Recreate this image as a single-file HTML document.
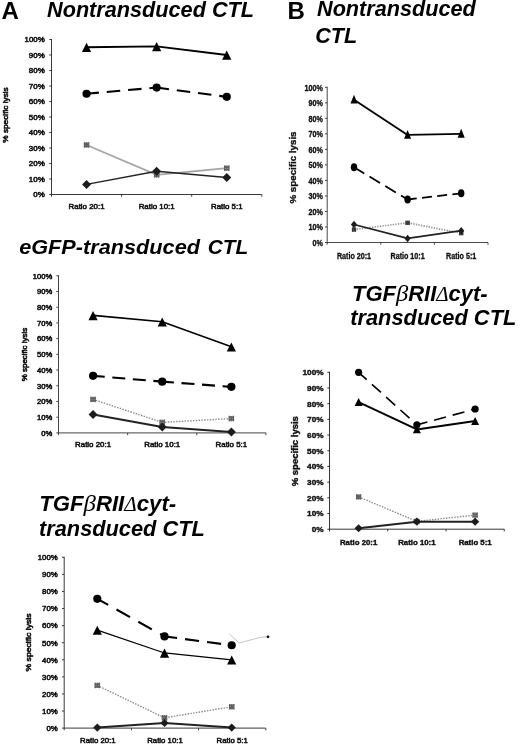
<!DOCTYPE html>
<html><head><meta charset="utf-8"><title>Figure</title>
<style>
html,body{margin:0;padding:0;background:#fff;}
body{width:520px;height:746px;overflow:hidden;}
svg{display:block;filter:grayscale(1) blur(0.4px);font-family:"Liberation Sans",sans-serif;}
.ttl{font-weight:700;font-style:italic;fill:#000;}
.sym{font-family:"Liberation Serif","DejaVu Serif",serif;font-weight:400;font-style:italic;}
</style></head><body>
<svg width="520" height="746" viewBox="0 0 520 746">
<rect width="520" height="746" fill="#fff"/>
<text class="ttl" x="1.6" y="19.2" font-size="24" style="font-style:normal">A</text>
<text class="ttl" x="47" y="17.2" font-size="21.5" textLength="207" lengthAdjust="spacingAndGlyphs" >Nontransduced CTL</text>
<text class="ttl" x="19.2" y="253.7" font-size="19.8" textLength="180.8" lengthAdjust="spacingAndGlyphs" >eGFP-transduced</text>
<text class="ttl" x="207.7" y="253.5" font-size="19.8" textLength="40.6" lengthAdjust="spacingAndGlyphs" >CTL</text>
<text class="ttl" x="39.2" y="511.3" font-size="21.5" textLength="137" lengthAdjust="spacingAndGlyphs" >TGF<tspan class="sym" font-size="24">β</tspan>RII<tspan class="sym" font-size="20.5">Δ</tspan>cyt-</text>
<text class="ttl" x="39" y="536.0" font-size="21.5" textLength="165.8" lengthAdjust="spacingAndGlyphs" >transduced CTL</text>
<text class="ttl" x="287.6" y="19" font-size="24" style="font-style:normal">B</text>
<text class="ttl" x="317" y="16.3" font-size="21.5" textLength="158.8" lengthAdjust="spacingAndGlyphs" >Nontransduced</text>
<text class="ttl" x="315.3" y="42.5" font-size="21.5" >CTL</text>
<text class="ttl" x="352" y="301.05" font-size="21.5" textLength="135.7" lengthAdjust="spacingAndGlyphs" >TGF<tspan class="sym" font-size="24">β</tspan>RII<tspan class="sym" font-size="20.5">Δ</tspan>cyt-</text>
<text class="ttl" x="350.2" y="325.3" font-size="21.5" textLength="166.1" lengthAdjust="spacingAndGlyphs" >transduced CTL</text>
<g stroke="#222" stroke-width="0.9" fill="none">
<path d="M51.5,39.00V196.70"/>
<path d="M49.30,194.5H261.80"/>
<path d="M49.30,39.50H51.5"/>
<path d="M49.30,55.00H51.5"/>
<path d="M49.30,70.50H51.5"/>
<path d="M49.30,86.00H51.5"/>
<path d="M49.30,101.50H51.5"/>
<path d="M49.30,117.00H51.5"/>
<path d="M49.30,132.50H51.5"/>
<path d="M49.30,148.00H51.5"/>
<path d="M49.30,163.50H51.5"/>
<path d="M49.30,179.00H51.5"/>
<path d="M121.60,194.5V196.70"/>
<path d="M191.70,194.5V196.70"/>
<path d="M261.80,194.5V196.70"/>
</g>
<g font-size="7.6" font-weight="400" fill="#111" stroke="#111" stroke-width="0.55">
<text x="24.49" y="42.24" textLength="20.21" lengthAdjust="spacingAndGlyphs">100%</text>
<text x="28.88" y="57.74" textLength="15.82" lengthAdjust="spacingAndGlyphs">90%</text>
<text x="28.88" y="73.24" textLength="15.82" lengthAdjust="spacingAndGlyphs">80%</text>
<text x="28.88" y="88.74" textLength="15.82" lengthAdjust="spacingAndGlyphs">70%</text>
<text x="28.88" y="104.24" textLength="15.82" lengthAdjust="spacingAndGlyphs">60%</text>
<text x="28.88" y="119.74" textLength="15.82" lengthAdjust="spacingAndGlyphs">50%</text>
<text x="28.88" y="135.24" textLength="15.82" lengthAdjust="spacingAndGlyphs">40%</text>
<text x="28.88" y="150.74" textLength="15.82" lengthAdjust="spacingAndGlyphs">30%</text>
<text x="28.88" y="166.24" textLength="15.82" lengthAdjust="spacingAndGlyphs">20%</text>
<text x="28.88" y="181.74" textLength="15.82" lengthAdjust="spacingAndGlyphs">10%</text>
<text x="33.28" y="197.24" textLength="11.42" lengthAdjust="spacingAndGlyphs">0%</text>
</g>
<g font-size="7.9" font-weight="400" fill="#111" stroke="#111" stroke-width="0.55">
<text x="68.55" y="208.6" textLength="36.01" lengthAdjust="spacingAndGlyphs">Ratio 20:1</text>
<text x="138.65" y="208.6" textLength="36.01" lengthAdjust="spacingAndGlyphs">Ratio 10:1</text>
<text x="210.94" y="208.6" textLength="31.62" lengthAdjust="spacingAndGlyphs">Ratio 5:1</text>
</g>
<text transform="translate(8.2,115) rotate(-90)" x="-27.75" y="0" font-size="7.3" font-weight="400" fill="#111" stroke="#111" stroke-width="0.55" textLength="55.50" lengthAdjust="spacingAndGlyphs">% specific lysis</text>
<polyline points="86.55,144.90 156.65,174.81 226.75,168.15" fill="none" stroke="#a4a4a4" stroke-width="1.6" />
<polyline points="86.55,184.43 156.65,171.25 226.75,177.45" fill="none" stroke="#222" stroke-width="1.4" stroke-linejoin="round"/>
<line x1="86.55" y1="93.75" x2="156.65" y2="87.55" stroke="#000" stroke-width="2.1" stroke-dasharray="13.50 7.90" stroke-dashoffset="1.10"/>
<line x1="156.65" y1="87.55" x2="226.75" y2="96.85" stroke="#000" stroke-width="2.1" stroke-dasharray="13.50 7.90" stroke-dashoffset="1.10"/>
<polyline points="86.55,47.25 156.65,46.47 226.75,55.00" fill="none" stroke="#000" stroke-width="1.8" stroke-linejoin="round"/>
<g stroke="#606060" stroke-width="1.1" fill="none"><rect x="83.95" y="142.30" width="5.20" height="5.20" fill="#959595" stroke="none"/><path d="M83.95,142.30L89.15,147.50M83.95,147.50L89.15,142.30M86.55,142.30V147.50M84.35,142.30V147.50M88.75,142.30V147.50"/></g>
<g stroke="#606060" stroke-width="1.1" fill="none"><rect x="154.05" y="172.22" width="5.20" height="5.20" fill="#959595" stroke="none"/><path d="M154.05,172.22L159.25,177.41M154.05,177.41L159.25,172.22M156.65,172.22V177.41M154.45,172.22V177.41M158.85,172.22V177.41"/></g>
<g stroke="#606060" stroke-width="1.1" fill="none"><rect x="224.15" y="165.55" width="5.20" height="5.20" fill="#959595" stroke="none"/><path d="M224.15,165.55L229.35,170.75M224.15,170.75L229.35,165.55M226.75,165.55V170.75M224.55,165.55V170.75M228.95,165.55V170.75"/></g>
<polygon points="82.05,184.43 86.55,179.93 91.05,184.43 86.55,188.93" fill="#1c1c1c"/>
<polygon points="152.15,171.25 156.65,166.75 161.15,171.25 156.65,175.75" fill="#1c1c1c"/>
<polygon points="222.25,177.45 226.75,172.95 231.25,177.45 226.75,181.95" fill="#1c1c1c"/>
<ellipse cx="86.55" cy="93.75" rx="4.1" ry="4.1" fill="#000"/>
<ellipse cx="156.65" cy="87.55" rx="4.1" ry="4.1" fill="#000"/>
<ellipse cx="226.75" cy="96.85" rx="4.1" ry="4.1" fill="#000"/>
<polygon points="81.95,52.05 91.15,52.05 86.55,42.85" fill="#000"/>
<polygon points="152.05,51.27 161.25,51.27 156.65,42.07" fill="#000"/>
<polygon points="222.15,59.80 231.35,59.80 226.75,50.60" fill="#000"/>
<g stroke="#444" stroke-width="1.0" fill="none">
<path d="M58.5,275.30V435.10"/>
<path d="M56.30,432.9H265.95"/>
<path d="M56.30,275.80H58.5"/>
<path d="M56.30,291.51H58.5"/>
<path d="M56.30,307.22H58.5"/>
<path d="M56.30,322.93H58.5"/>
<path d="M56.30,338.64H58.5"/>
<path d="M56.30,354.35H58.5"/>
<path d="M56.30,370.06H58.5"/>
<path d="M56.30,385.77H58.5"/>
<path d="M56.30,401.48H58.5"/>
<path d="M56.30,417.19H58.5"/>
<path d="M127.65,432.9V435.10"/>
<path d="M196.80,432.9V435.10"/>
<path d="M265.95,432.9V435.10"/>
</g>
<g font-size="7.6" font-weight="400" fill="#111" stroke="#111" stroke-width="0.55">
<text x="32.87" y="278.54" textLength="19.43" lengthAdjust="spacingAndGlyphs">100%</text>
<text x="37.09" y="294.25" textLength="15.21" lengthAdjust="spacingAndGlyphs">90%</text>
<text x="37.09" y="309.96" textLength="15.21" lengthAdjust="spacingAndGlyphs">80%</text>
<text x="37.09" y="325.67" textLength="15.21" lengthAdjust="spacingAndGlyphs">70%</text>
<text x="37.09" y="341.38" textLength="15.21" lengthAdjust="spacingAndGlyphs">60%</text>
<text x="37.09" y="357.09" textLength="15.21" lengthAdjust="spacingAndGlyphs">50%</text>
<text x="37.09" y="372.80" textLength="15.21" lengthAdjust="spacingAndGlyphs">40%</text>
<text x="37.09" y="388.51" textLength="15.21" lengthAdjust="spacingAndGlyphs">30%</text>
<text x="37.09" y="404.22" textLength="15.21" lengthAdjust="spacingAndGlyphs">20%</text>
<text x="37.09" y="419.93" textLength="15.21" lengthAdjust="spacingAndGlyphs">10%</text>
<text x="41.32" y="435.64" textLength="10.98" lengthAdjust="spacingAndGlyphs">0%</text>
</g>
<g font-size="7.9" font-weight="400" fill="#111" stroke="#111" stroke-width="0.55">
<text x="75.07" y="446.8" textLength="36.01" lengthAdjust="spacingAndGlyphs">Ratio 20:1</text>
<text x="144.22" y="446.8" textLength="36.01" lengthAdjust="spacingAndGlyphs">Ratio 10:1</text>
<text x="215.57" y="446.8" textLength="31.62" lengthAdjust="spacingAndGlyphs">Ratio 5:1</text>
</g>
<text transform="translate(26.9,354.5) rotate(-90)" x="-26.75" y="0" font-size="7.0" font-weight="400" fill="#111" stroke="#111" stroke-width="0.55" textLength="53.50" lengthAdjust="spacingAndGlyphs">% specific lysis</text>
<polyline points="93.08,399.41 162.23,422.35 231.38,418.58" fill="none" stroke="#8c8c8c" stroke-width="1.4" stroke-dasharray="1.5 1.3"/>
<polyline points="93.08,414.49 162.23,426.90 231.38,431.93" fill="none" stroke="#222" stroke-width="2.0" stroke-linejoin="round"/>
<line x1="93.08" y1="375.84" x2="162.23" y2="381.66" stroke="#000" stroke-width="2.1" stroke-dasharray="13.00 7.60" stroke-dashoffset="1.30"/>
<line x1="162.23" y1="381.66" x2="231.38" y2="386.84" stroke="#000" stroke-width="2.1" stroke-dasharray="13.00 7.60" stroke-dashoffset="1.30"/>
<polyline points="93.08,315.36 162.23,321.80 231.38,346.78" fill="none" stroke="#000" stroke-width="1.6" stroke-linejoin="round"/>
<g stroke="#606060" stroke-width="1.1" fill="none"><rect x="90.48" y="396.81" width="5.20" height="5.20" fill="#959595" stroke="none"/><path d="M90.48,396.81L95.67,402.01M90.48,402.01L95.67,396.81M93.08,396.81V402.01M90.88,396.81V402.01M95.27,396.81V402.01"/></g>
<g stroke="#606060" stroke-width="1.1" fill="none"><rect x="159.63" y="419.75" width="5.20" height="5.20" fill="#959595" stroke="none"/><path d="M159.63,419.75L164.83,424.95M159.63,424.95L164.83,419.75M162.23,419.75V424.95M160.03,419.75V424.95M164.43,419.75V424.95"/></g>
<g stroke="#606060" stroke-width="1.1" fill="none"><rect x="228.78" y="415.98" width="5.20" height="5.20" fill="#959595" stroke="none"/><path d="M228.78,415.98L233.97,421.18M228.78,421.18L233.97,415.98M231.38,415.98V421.18M229.18,415.98V421.18M233.57,415.98V421.18"/></g>
<polygon points="88.58,414.49 93.08,409.99 97.58,414.49 93.08,418.99" fill="#1c1c1c"/>
<polygon points="157.73,426.90 162.23,422.40 166.73,426.90 162.23,431.40" fill="#1c1c1c"/>
<polygon points="226.88,431.93 231.38,427.43 235.88,431.93 231.38,436.43" fill="#1c1c1c"/>
<ellipse cx="93.08" cy="375.84" rx="4.1" ry="4.1" fill="#000"/>
<ellipse cx="162.23" cy="381.66" rx="4.1" ry="4.1" fill="#000"/>
<ellipse cx="231.38" cy="386.84" rx="4.1" ry="4.1" fill="#000"/>
<polygon points="88.48,320.16 97.67,320.16 93.08,310.96" fill="#000"/>
<polygon points="157.63,326.60 166.83,326.60 162.23,317.40" fill="#000"/>
<polygon points="226.78,351.58 235.97,351.58 231.38,342.38" fill="#000"/>
<g stroke="#3a3a3a" stroke-width="1.0" fill="none">
<path d="M64.2,556.80V730.30"/>
<path d="M62.00,728.1H265.80"/>
<path d="M62.00,557.30H64.2"/>
<path d="M62.00,574.38H64.2"/>
<path d="M62.00,591.46H64.2"/>
<path d="M62.00,608.54H64.2"/>
<path d="M62.00,625.62H64.2"/>
<path d="M62.00,642.70H64.2"/>
<path d="M62.00,659.78H64.2"/>
<path d="M62.00,676.86H64.2"/>
<path d="M62.00,693.94H64.2"/>
<path d="M62.00,711.02H64.2"/>
<path d="M131.40,728.1V730.30"/>
<path d="M198.60,728.1V730.30"/>
<path d="M265.80,728.1V730.30"/>
</g>
<g font-size="7.8" font-weight="400" fill="#111" stroke="#111" stroke-width="0.55">
<text x="37.76" y="560.11" textLength="19.94" lengthAdjust="spacingAndGlyphs">100%</text>
<text x="42.09" y="577.19" textLength="15.61" lengthAdjust="spacingAndGlyphs">90%</text>
<text x="42.09" y="594.27" textLength="15.61" lengthAdjust="spacingAndGlyphs">80%</text>
<text x="42.09" y="611.35" textLength="15.61" lengthAdjust="spacingAndGlyphs">70%</text>
<text x="42.09" y="628.43" textLength="15.61" lengthAdjust="spacingAndGlyphs">60%</text>
<text x="42.09" y="645.51" textLength="15.61" lengthAdjust="spacingAndGlyphs">50%</text>
<text x="42.09" y="662.59" textLength="15.61" lengthAdjust="spacingAndGlyphs">40%</text>
<text x="42.09" y="679.67" textLength="15.61" lengthAdjust="spacingAndGlyphs">30%</text>
<text x="42.09" y="696.75" textLength="15.61" lengthAdjust="spacingAndGlyphs">20%</text>
<text x="42.09" y="713.83" textLength="15.61" lengthAdjust="spacingAndGlyphs">10%</text>
<text x="46.43" y="730.91" textLength="11.27" lengthAdjust="spacingAndGlyphs">0%</text>
</g>
<g font-size="7.8" font-weight="400" fill="#111" stroke="#111" stroke-width="0.55">
<text x="80.02" y="743.3" textLength="35.55" lengthAdjust="spacingAndGlyphs">Ratio 20:1</text>
<text x="147.22" y="743.3" textLength="35.55" lengthAdjust="spacingAndGlyphs">Ratio 10:1</text>
<text x="216.59" y="743.3" textLength="31.22" lengthAdjust="spacingAndGlyphs">Ratio 5:1</text>
</g>
<text transform="translate(31.4,642.5) rotate(-90)" x="-29.00" y="0" font-size="7.4" font-weight="400" fill="#111" stroke="#111" stroke-width="0.55" textLength="58.00" lengthAdjust="spacingAndGlyphs">% specific lysis</text>
<polyline points="97.30,685.40 164.50,717.85 231.70,706.75" fill="none" stroke="#8c8c8c" stroke-width="1.4" stroke-dasharray="1.5 1.3"/>
<polyline points="97.30,727.59 164.50,722.98 231.70,727.59" fill="none" stroke="#222" stroke-width="2.0" stroke-linejoin="round"/>
<line x1="97.30" y1="598.80" x2="164.50" y2="636.38" stroke="#000" stroke-width="2.1" stroke-dasharray="15.50 9.50" stroke-dashoffset="3.00"/>
<line x1="164.50" y1="636.38" x2="231.70" y2="645.26" stroke="#000" stroke-width="2.1" stroke-dasharray="14.20 8.00" stroke-dashoffset="1.50"/>
<polyline points="97.30,630.06 164.50,652.95 231.70,659.78" fill="none" stroke="#000" stroke-width="1.2" stroke-linejoin="round"/>
<g stroke="#606060" stroke-width="1.1" fill="none"><rect x="94.70" y="682.80" width="5.20" height="5.20" fill="#959595" stroke="none"/><path d="M94.70,682.80L99.90,688.00M94.70,688.00L99.90,682.80M97.30,682.80V688.00M95.10,682.80V688.00M99.50,682.80V688.00"/></g>
<g stroke="#606060" stroke-width="1.1" fill="none"><rect x="161.90" y="715.25" width="5.20" height="5.20" fill="#959595" stroke="none"/><path d="M161.90,715.25L167.10,720.45M161.90,720.45L167.10,715.25M164.50,715.25V720.45M162.30,715.25V720.45M166.70,715.25V720.45"/></g>
<g stroke="#606060" stroke-width="1.1" fill="none"><rect x="229.10" y="704.15" width="5.20" height="5.20" fill="#959595" stroke="none"/><path d="M229.10,704.15L234.30,709.35M229.10,709.35L234.30,704.15M231.70,704.15V709.35M229.50,704.15V709.35M233.90,704.15V709.35"/></g>
<polygon points="93.20,727.59 97.30,723.49 101.40,727.59 97.30,731.69" fill="#1c1c1c"/>
<polygon points="160.40,722.98 164.50,718.88 168.60,722.98 164.50,727.08" fill="#1c1c1c"/>
<polygon points="227.60,727.59 231.70,723.49 235.80,727.59 231.70,731.69" fill="#1c1c1c"/>
<ellipse cx="97.30" cy="598.80" rx="4.1" ry="4.1" fill="#000"/>
<ellipse cx="164.50" cy="636.38" rx="4.1" ry="4.1" fill="#000"/>
<ellipse cx="231.70" cy="645.26" rx="4.1" ry="4.1" fill="#000"/>
<polygon points="92.70,634.86 101.90,634.86 97.30,625.66" fill="#000"/>
<polygon points="159.90,657.75 169.10,657.75 164.50,648.55" fill="#000"/>
<polygon points="227.10,664.58 236.30,664.58 231.70,655.38" fill="#000"/>
<g stroke="#333" stroke-width="0.9" fill="none">
<path d="M327.2,86.80V244.70"/>
<path d="M325.00,242.5H488.00"/>
<path d="M325.00,87.30H327.2"/>
<path d="M325.00,102.82H327.2"/>
<path d="M325.00,118.34H327.2"/>
<path d="M325.00,133.86H327.2"/>
<path d="M325.00,149.38H327.2"/>
<path d="M325.00,164.90H327.2"/>
<path d="M325.00,180.42H327.2"/>
<path d="M325.00,195.94H327.2"/>
<path d="M325.00,211.46H327.2"/>
<path d="M325.00,226.98H327.2"/>
<path d="M380.80,242.5V244.70"/>
<path d="M434.40,242.5V244.70"/>
<path d="M488.00,242.5V244.70"/>
</g>
<g font-size="9.1" font-weight="700" fill="#111" stroke="#111" stroke-width="0.35">
<text x="304.52" y="90.58" textLength="18.38" lengthAdjust="spacingAndGlyphs">100%</text>
<text x="308.51" y="106.10" textLength="14.39" lengthAdjust="spacingAndGlyphs">90%</text>
<text x="308.51" y="121.62" textLength="14.39" lengthAdjust="spacingAndGlyphs">80%</text>
<text x="308.51" y="137.14" textLength="14.39" lengthAdjust="spacingAndGlyphs">70%</text>
<text x="308.51" y="152.66" textLength="14.39" lengthAdjust="spacingAndGlyphs">60%</text>
<text x="308.51" y="168.18" textLength="14.39" lengthAdjust="spacingAndGlyphs">50%</text>
<text x="308.51" y="183.70" textLength="14.39" lengthAdjust="spacingAndGlyphs">40%</text>
<text x="308.51" y="199.22" textLength="14.39" lengthAdjust="spacingAndGlyphs">30%</text>
<text x="308.51" y="214.74" textLength="14.39" lengthAdjust="spacingAndGlyphs">20%</text>
<text x="308.51" y="230.26" textLength="14.39" lengthAdjust="spacingAndGlyphs">10%</text>
<text x="312.51" y="245.78" textLength="10.39" lengthAdjust="spacingAndGlyphs">0%</text>
</g>
<g font-size="9.3" font-weight="700" fill="#111" stroke="#111" stroke-width="0.35">
<text x="336.89" y="258.5" textLength="34.22" lengthAdjust="spacingAndGlyphs">Ratio 20:1</text>
<text x="390.49" y="258.5" textLength="34.22" lengthAdjust="spacingAndGlyphs">Ratio 10:1</text>
<text x="446.08" y="258.5" textLength="30.24" lengthAdjust="spacingAndGlyphs">Ratio 5:1</text>
</g>
<text transform="translate(296.3,167.5) rotate(-90)" x="-36.04" y="0" font-size="9.75" font-weight="700" fill="#111" stroke="#111" stroke-width="0.35" textLength="72.08" lengthAdjust="spacingAndGlyphs">% specific lysis</text>
<polyline points="354.00,229.62 407.60,222.79 461.20,233.19" fill="none" stroke="#9a9a9a" stroke-width="1.6" stroke-dasharray="1.4 1.2"/>
<polyline points="354.00,224.50 407.60,238.46 461.20,230.70" fill="none" stroke="#222" stroke-width="1.8" stroke-linejoin="round"/>
<line x1="354.00" y1="167.23" x2="407.60" y2="199.51" stroke="#000" stroke-width="1.8" stroke-dasharray="12.30 6.10" stroke-dashoffset="0.30"/>
<line x1="407.60" y1="199.51" x2="461.20" y2="193.30" stroke="#000" stroke-width="1.8" stroke-dasharray="10.00 5.30" stroke-dashoffset="0.80"/>
<polyline points="354.00,99.72 407.60,134.95 461.20,133.86" fill="none" stroke="#000" stroke-width="1.8" stroke-linejoin="round"/>
<g stroke="#3a3a3a" stroke-width="1.1" fill="none"><rect x="352.00" y="227.62" width="4.00" height="4.00" fill="#555" stroke="none"/><path d="M352.00,227.62L356.00,231.62M352.00,231.62L356.00,227.62M354.00,227.62V231.62M352.40,227.62V231.62M355.60,227.62V231.62"/></g>
<g stroke="#3a3a3a" stroke-width="1.1" fill="none"><rect x="405.60" y="220.79" width="4.00" height="4.00" fill="#555" stroke="none"/><path d="M405.60,220.79L409.60,224.79M405.60,224.79L409.60,220.79M407.60,220.79V224.79M406.00,220.79V224.79M409.20,220.79V224.79"/></g>
<g stroke="#3a3a3a" stroke-width="1.1" fill="none"><rect x="459.20" y="231.19" width="4.00" height="4.00" fill="#555" stroke="none"/><path d="M459.20,231.19L463.20,235.19M459.20,235.19L463.20,231.19M461.20,231.19V235.19M459.60,231.19V235.19M462.80,231.19V235.19"/></g>
<polygon points="350.90,224.50 354.00,220.70 357.10,224.50 354.00,228.30" fill="#1c1c1c"/>
<polygon points="404.50,238.46 407.60,234.66 410.70,238.46 407.60,242.26" fill="#1c1c1c"/>
<polygon points="458.10,230.70 461.20,226.90 464.30,230.70 461.20,234.50" fill="#1c1c1c"/>
<ellipse cx="354.00" cy="167.23" rx="3.2" ry="4.0" fill="#000"/>
<ellipse cx="407.60" cy="199.51" rx="3.2" ry="4.0" fill="#000"/>
<ellipse cx="461.20" cy="193.30" rx="3.2" ry="4.0" fill="#000"/>
<polygon points="350.50,103.62 357.50,103.62 354.00,94.72" fill="#000"/>
<polygon points="404.10,138.85 411.10,138.85 407.60,129.95" fill="#000"/>
<polygon points="457.70,137.76 464.70,137.76 461.20,128.86" fill="#000"/>
<g stroke="#2a2a2a" stroke-width="0.95" fill="none">
<path d="M329.5,371.80V531.40"/>
<path d="M327.30,529.2H504.25"/>
<path d="M327.30,372.30H329.5"/>
<path d="M327.30,387.99H329.5"/>
<path d="M327.30,403.68H329.5"/>
<path d="M327.30,419.37H329.5"/>
<path d="M327.30,435.06H329.5"/>
<path d="M327.30,450.75H329.5"/>
<path d="M327.30,466.44H329.5"/>
<path d="M327.30,482.13H329.5"/>
<path d="M327.30,497.82H329.5"/>
<path d="M327.30,513.51H329.5"/>
<path d="M387.75,529.2V531.40"/>
<path d="M446.00,529.2V531.40"/>
<path d="M504.25,529.2V531.40"/>
</g>
<g font-size="8.0" font-weight="700" fill="#111" stroke="#111" stroke-width="0.4">
<text x="302.53" y="375.18" textLength="21.07" lengthAdjust="spacingAndGlyphs">100%</text>
<text x="307.11" y="390.87" textLength="16.49" lengthAdjust="spacingAndGlyphs">90%</text>
<text x="307.11" y="406.56" textLength="16.49" lengthAdjust="spacingAndGlyphs">80%</text>
<text x="307.11" y="422.25" textLength="16.49" lengthAdjust="spacingAndGlyphs">70%</text>
<text x="307.11" y="437.94" textLength="16.49" lengthAdjust="spacingAndGlyphs">60%</text>
<text x="307.11" y="453.63" textLength="16.49" lengthAdjust="spacingAndGlyphs">50%</text>
<text x="307.11" y="469.32" textLength="16.49" lengthAdjust="spacingAndGlyphs">40%</text>
<text x="307.11" y="485.01" textLength="16.49" lengthAdjust="spacingAndGlyphs">30%</text>
<text x="307.11" y="500.70" textLength="16.49" lengthAdjust="spacingAndGlyphs">20%</text>
<text x="307.11" y="516.39" textLength="16.49" lengthAdjust="spacingAndGlyphs">10%</text>
<text x="311.69" y="532.08" textLength="11.91" lengthAdjust="spacingAndGlyphs">0%</text>
</g>
<g font-size="7.8" font-weight="700" fill="#111" stroke="#111" stroke-width="0.4">
<text x="339.99" y="545.4" textLength="37.28" lengthAdjust="spacingAndGlyphs">Ratio 20:1</text>
<text x="398.24" y="545.4" textLength="37.28" lengthAdjust="spacingAndGlyphs">Ratio 10:1</text>
<text x="458.66" y="545.4" textLength="32.94" lengthAdjust="spacingAndGlyphs">Ratio 5:1</text>
</g>
<text transform="translate(298.0,451.2) rotate(-90)" x="-35.05" y="0" font-size="8.2" font-weight="700" fill="#111" stroke="#111" stroke-width="0.4" textLength="70.10" lengthAdjust="spacingAndGlyphs">% specific lysis</text>
<polyline points="358.62,496.88 416.88,521.36 475.12,515.08" fill="none" stroke="#8c8c8c" stroke-width="1.4" stroke-dasharray="1.5 1.3"/>
<polyline points="358.62,528.26 416.88,521.67 475.12,521.67" fill="none" stroke="#222" stroke-width="2.0" stroke-linejoin="round"/>
<line x1="358.62" y1="372.30" x2="416.88" y2="424.86" stroke="#000" stroke-width="1.6" stroke-dasharray="12.20 7.00" stroke-dashoffset="1.30"/>
<line x1="416.88" y1="424.86" x2="475.12" y2="409.01" stroke="#000" stroke-width="1.6" stroke-dasharray="12.20 7.00" stroke-dashoffset="1.30"/>
<polyline points="358.62,402.11 416.88,429.41 475.12,421.10" fill="none" stroke="#000" stroke-width="2.0" stroke-linejoin="round"/>
<g stroke="#606060" stroke-width="1.1" fill="none"><rect x="356.12" y="494.38" width="5.00" height="5.00" fill="#959595" stroke="none"/><path d="M356.12,494.38L361.12,499.38M356.12,499.38L361.12,494.38M358.62,494.38V499.38M356.52,494.38V499.38M360.73,494.38V499.38"/></g>
<g stroke="#606060" stroke-width="1.1" fill="none"><rect x="414.38" y="518.86" width="5.00" height="5.00" fill="#959595" stroke="none"/><path d="M414.38,518.86L419.38,523.86M414.38,523.86L419.38,518.86M416.88,518.86V523.86M414.77,518.86V523.86M418.98,518.86V523.86"/></g>
<g stroke="#606060" stroke-width="1.1" fill="none"><rect x="472.62" y="512.58" width="5.00" height="5.00" fill="#959595" stroke="none"/><path d="M472.62,512.58L477.62,517.58M472.62,517.58L477.62,512.58M475.12,512.58V517.58M473.02,512.58V517.58M477.23,512.58V517.58"/></g>
<polygon points="354.52,528.26 358.62,524.16 362.73,528.26 358.62,532.36" fill="#1c1c1c"/>
<polygon points="412.77,521.67 416.88,517.57 420.98,521.67 416.88,525.77" fill="#1c1c1c"/>
<polygon points="471.02,521.67 475.12,517.57 479.23,521.67 475.12,525.77" fill="#1c1c1c"/>
<ellipse cx="358.62" cy="372.30" rx="3.6" ry="3.6" fill="#000"/>
<ellipse cx="416.88" cy="424.86" rx="3.6" ry="3.6" fill="#000"/>
<ellipse cx="475.12" cy="409.01" rx="3.6" ry="3.6" fill="#000"/>
<polygon points="354.62,405.91 362.62,405.91 358.62,397.91" fill="#000"/>
<polygon points="412.88,433.21 420.88,433.21 416.88,425.21" fill="#000"/>
<polygon points="471.12,424.90 479.12,424.90 475.12,416.90" fill="#000"/>
<g fill="none" stroke="#bdbdbd" stroke-width="0.9"><polyline points="229.5,634 239,643 260,637.5 267,636.8"/></g>
<circle cx="268" cy="636.8" r="1.4" fill="#111"/>

</svg></body></html>
